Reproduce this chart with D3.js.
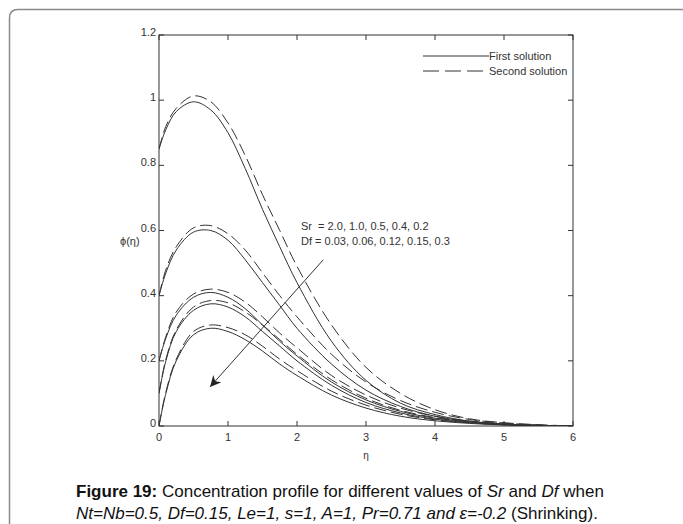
<!DOCTYPE html>
<html>
<head>
<meta charset="utf-8">
<script src="https://cdn.jsdelivr.net/npm/d3@7"></script>
<style>
  body { margin: 0; background: #fff; }
  svg { display: block; font-family: Arial, "Liberation Sans", sans-serif; }
</style>
</head>
<body>
<svg width="683" height="524"></svg>
<script>
// eta sample points
var eta = [0, 0.1, 0.25, 0.5, 0.75, 1.0, 1.25, 1.5, 1.75, 2.0, 2.5, 3.0, 3.5, 4.0, 4.5, 5.0, 5.5, 6.0];

// first solution (solid), Sr = 2.0, 1.0, 0.5, 0.4, 0.2
var first1 = [0.85, 0.91, 0.965, 0.995, 0.97, 0.90, 0.79, 0.665, 0.55, 0.44, 0.26, 0.14, 0.07, 0.035, 0.015, 0.006, 0.002, 0];
var first2 = [0.40, 0.47, 0.54, 0.595, 0.60, 0.57, 0.51, 0.44, 0.37, 0.30, 0.19, 0.11, 0.06, 0.03, 0.014, 0.006, 0.002, 0];
var first3 = [0.20, 0.27, 0.34, 0.395, 0.41, 0.395, 0.36, 0.31, 0.26, 0.215, 0.135, 0.08, 0.045, 0.024, 0.012, 0.005, 0.002, 0];
var first4 = [0.10, 0.20, 0.29, 0.355, 0.375, 0.365, 0.335, 0.29, 0.245, 0.20, 0.125, 0.072, 0.04, 0.021, 0.01, 0.004, 0.001, 0];
var first5 = [0.0, 0.10, 0.20, 0.28, 0.30, 0.29, 0.265, 0.23, 0.19, 0.155, 0.095, 0.055, 0.03, 0.016, 0.008, 0.003, 0.001, 0];

// second solution (dashed)
var second1 = [0.85, 0.92, 0.975, 1.013, 0.995, 0.93, 0.83, 0.71, 0.60, 0.49, 0.31, 0.18, 0.10, 0.05, 0.022, 0.01, 0.004, 0];
var second2 = [0.40, 0.48, 0.55, 0.608, 0.615, 0.59, 0.54, 0.47, 0.40, 0.335, 0.22, 0.135, 0.078, 0.042, 0.02, 0.009, 0.003, 0];
var second3 = [0.20, 0.275, 0.35, 0.405, 0.42, 0.41, 0.38, 0.335, 0.285, 0.24, 0.155, 0.095, 0.055, 0.03, 0.015, 0.007, 0.002, 0];
var second4 = [0.10, 0.205, 0.295, 0.365, 0.385, 0.378, 0.35, 0.31, 0.265, 0.22, 0.142, 0.085, 0.048, 0.026, 0.013, 0.006, 0.002, 0];
var second5 = [0.0, 0.105, 0.205, 0.29, 0.31, 0.302, 0.28, 0.245, 0.205, 0.17, 0.107, 0.064, 0.036, 0.019, 0.01, 0.004, 0.001, 0];

var firstSet = [first1, first2, first3, first4, first5];
var secondSet = [second1, second2, second3, second4, second5];

var xTicks = [0, 1, 2, 3, 4, 5, 6];
var yTicks = [0, 0.2, 0.4, 0.6, 0.8, 1, 1.2];

// arrow: from (eta, phi) to (eta, phi)
var arrowFrom = [2.38, 0.51];
var arrowTo = [0.74, 0.12];

(function () {
    var svg = d3.select('svg');

    // outer rounded frame
    svg.append('path')
        .attr('d', 'M9.5,530 L9.5,18 Q9.5,9.5 18,9.5 L690,9.5')
        .attr('fill', 'none')
        .attr('stroke', '#8a8a8a')
        .attr('stroke-width', 1.5);

    var pl = 159, pr = 573, pt = 35, pb = 426;

    var x = d3.scaleLinear().domain([0, 6]).range([pl, pr]);
    var y = d3.scaleLinear().domain([0, 1.2]).range([pb, pt]);

    var defs = svg.append('defs');
    defs.append('clipPath').attr('id', 'clip')
        .append('rect')
        .attr('x', pl).attr('y', pt)
        .attr('width', pr - pl).attr('height', pb - pt);

    defs.append('marker')
        .attr('id', 'arrowhead')
        .attr('viewBox', '0 0 10 10')
        .attr('refX', 10).attr('refY', 5)
        .attr('markerWidth', 15).attr('markerHeight', 11)
        .attr('markerUnits', 'userSpaceOnUse')
        .attr('orient', 'auto')
        .append('path')
            .attr('d', 'M0,0 L10,5 L0,10 L3,5 Z')
            .attr('fill', '#222');

    // axes box
    svg.append('rect')
        .attr('x', pl).attr('y', pt)
        .attr('width', pr - pl).attr('height', pb - pt)
        .attr('fill', 'none')
        .attr('stroke', '#333')
        .attr('stroke-width', 1);

    var ticks = svg.append('g').attr('stroke', '#333').attr('stroke-width', 1);
    xTicks.forEach(function (t) {
        ticks.append('line').attr('x1', x(t)).attr('x2', x(t)).attr('y1', pb).attr('y2', pb - 5);
        ticks.append('line').attr('x1', x(t)).attr('x2', x(t)).attr('y1', pt).attr('y2', pt + 5);
    });
    yTicks.forEach(function (t) {
        ticks.append('line').attr('x1', pl).attr('x2', pl + 5).attr('y1', y(t)).attr('y2', y(t));
        ticks.append('line').attr('x1', pr).attr('x2', pr - 5).attr('y1', y(t)).attr('y2', y(t));
    });

    svg.append('g').selectAll('text')
        .data(xTicks)
        .enter()
        .append('text')
            .attr('x', function (d) { return x(d); })
            .attr('y', pb + 15)
            .attr('text-anchor', 'middle')
            .attr('font-size', 11)
            .attr('fill', '#333')
            .text(function (d) { return d; });

    svg.append('g').selectAll('text')
        .data(yTicks)
        .enter()
        .append('text')
            .attr('x', pl - 3)
            .attr('y', function (d) { return y(d) + 1; })
            .attr('text-anchor', 'end')
            .attr('font-size', 11)
            .attr('fill', '#333')
            .text(function (d) { return d; });

    svg.append('text')
        .attr('x', 120).attr('y', 245)
        .attr('font-size', 11)
        .attr('fill', '#333')
        .text('\u03d5(\u03b7)');

    svg.append('text')
        .attr('x', x(3)).attr('y', 459)
        .attr('text-anchor', 'middle')
        .attr('font-size', 10)
        .attr('fill', '#333')
        .text('\u03b7');

    var line = d3.line()
        .x(function (d, i) { return x(eta[i]); })
        .y(function (d) { return y(d); })
        .curve(d3.curveCatmullRom.alpha(0.5));

    var plot = svg.append('g').attr('clip-path', 'url(#clip)');

    plot.selectAll('.first')
        .data(firstSet)
        .enter()
        .append('path')
            .attr('class', 'first')
            .attr('d', line)
            .attr('fill', 'none')
            .attr('stroke', '#333')
            .attr('stroke-width', 1);

    plot.selectAll('.second')
        .data(secondSet)
        .enter()
        .append('path')
            .attr('class', 'second')
            .attr('d', line)
            .attr('fill', 'none')
            .attr('stroke', '#333')
            .attr('stroke-width', 1)
            .attr('stroke-dasharray', '12,5');

    // annotation arrow
    svg.append('line')
        .attr('x1', x(arrowFrom[0])).attr('y1', y(arrowFrom[1]))
        .attr('x2', x(arrowTo[0])).attr('y2', y(arrowTo[1]))
        .attr('stroke', '#333')
        .attr('stroke-width', 1)
        .attr('marker-end', 'url(#arrowhead)');

    svg.append('text')
        .attr('x', 301).attr('y', 230)
        .attr('font-size', 11)
        .attr('fill', '#333')
        .attr('xml:space', 'preserve')
        .text('Sr  = 2.0, 1.0, 0.5, 0.4, 0.2');

    svg.append('text')
        .attr('x', 301).attr('y', 245)
        .attr('font-size', 11)
        .attr('fill', '#333')
        .text('Df = 0.03, 0.06, 0.12, 0.15, 0.3');

    // legend
    var legend = svg.append('g');
    legend.append('line')
        .attr('x1', 423).attr('x2', 489).attr('y1', 56).attr('y2', 56)
        .attr('stroke', '#333').attr('stroke-width', 1);
    legend.append('line')
        .attr('x1', 423).attr('x2', 489).attr('y1', 71).attr('y2', 71)
        .attr('stroke', '#333').attr('stroke-width', 1)
        .attr('stroke-dasharray', '16,6');
    legend.append('text')
        .attr('x', 489).attr('y', 60)
        .attr('font-size', 11).attr('fill', '#333')
        .text('First solution');
    legend.append('text')
        .attr('x', 489).attr('y', 75)
        .attr('font-size', 11).attr('fill', '#333')
        .text('Second solution');

    // caption
    var cap1 = svg.append('text')
        .attr('x', 76).attr('y', 497)
        .attr('font-size', 17)
        .attr('fill', '#111');
    cap1.append('tspan').attr('font-weight', 'bold').text('Figure 19:');
    cap1.append('tspan').text(' Concentration profile for different values of ');
    cap1.append('tspan').attr('font-style', 'italic').text('Sr');
    cap1.append('tspan').text(' and ');
    cap1.append('tspan').attr('font-style', 'italic').text('Df');
    cap1.append('tspan').text(' when');

    var cap2 = svg.append('text')
        .attr('x', 76).attr('y', 519)
        .attr('font-size', 17)
        .attr('fill', '#111');
    cap2.append('tspan').attr('font-style', 'italic').text('Nt=Nb=0.5, Df=0.15, Le=1, s=1, A=1, Pr=0.71 and \u03b5=-0.2');
    cap2.append('tspan').text(' (Shrinking).');
})();
</script>
</body>
</html>
